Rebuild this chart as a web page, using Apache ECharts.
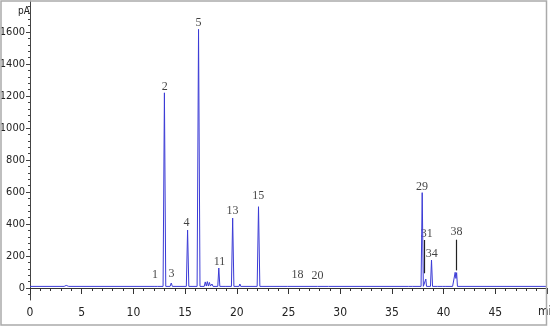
<!DOCTYPE html>
<html>
<head>
<meta charset="utf-8">
<script src="https://cdn.jsdelivr.net/npm/echarts@6/dist/echarts.min.js"></script>
<style>
  html, body { margin: 0; padding: 0; background: #fff; }
  #chart { width: 550px; height: 328px; }
</style>
</head>
<body>
<div id="chart"></div>
<script>
// retention time (min) and detector signal (pA) of the trace
var traceTime = [
  0, 3.3, 3.5, 3.75,
  12.08, 12.2, 12.32,
  12.87, 13.0, 13.13,
  13.55, 13.66, 13.77,
  15.12, 15.24, 15.36,
  16.16, 16.3, 16.44,
  16.85, 16.95, 17.05, 17.15, 17.25, 17.35, 17.45, 17.6, 17.7,
  18.16, 18.26, 18.36,
  18.87, 18.95, 19.03,
  19.48, 19.6, 19.72,
  20.22, 20.3, 20.38,
  21.97, 22.1, 22.23,
  24.92, 25.0, 25.08,
  25.92, 26.0, 26.08,
  27.82, 27.9, 27.98,
  28.87, 28.95, 29.03,
  36.62, 36.7, 36.78, 36.97, 37.05, 37.13,
  37.82, 37.93, 38.04,
  38.21, 38.28, 38.35,
  38.73, 38.83, 38.93,
  39.42, 39.5, 39.58,
  39.92, 40.0, 40.08, 40.22, 40.3, 40.38,
  40.87, 40.95, 41.05, 41.12, 41.19, 41.26, 41.34,
  50
];
var traceSignal = [
  10, 10, 16, 10,
  10, 15, 10,
  10, 1220, 10,
  10, 31, 10,
  10, 362, 10,
  10, 1617, 10,
  10, 38, 12, 40, 12, 35, 12, 25, 10,
  10, 125, 10,
  10, 22, 10,
  10, 437, 10,
  10, 25, 10,
  10, 508, 10,
  10, 15, 10,
  10, 20, 10,
  10, 20, 10,
  10, 22, 10,
  10, 16, 10, 10, 16, 10,
  10, 596, 10,
  10, 56, 10,
  10, 175, 10,
  10, 18, 10,
  10, 20, 10, 10, 18, 10,
  10, 15, 10, 98, 60, 96, 10,
  10
];

// peak numbers and where their labels sit
var peakNames  = ['1', '2', '3', '4', '5', '11', '13', '15', '18', '20', '29', '31', '34', '38'];
var labelTime  = [12.1, 13.02, 13.69, 15.14, 16.3, 18.32, 19.58, 22.08, 25.87, 27.8, 37.9, 38.36, 38.86, 41.25];
var labelValue = [80, 1255, 86, 405, 1657, 165, 480, 573, 80, 75, 633, 336, 213, 348];

// leader lines for peaks 31 and 38: [time, from, to]
var leaderTime = [38.16, 41.18];
var leaderFrom = [92, 110];
var leaderTo   = [300, 302];

var yMajor = [0, 200, 400, 600, 800, 1000, 1200, 1400, 1600];
var yMinor = [];
for (var v = -40; v <= 1760; v += 40) yMinor.push(v);

var chart = echarts.init(document.getElementById('chart'));

var trace = traceTime.map(function (t, i) { return [t, traceSignal[i]]; });
var labels = labelTime.map(function (t, i) { return { value: [t, labelValue[i]], name: peakNames[i] }; });
var leaders = leaderTime.map(function (t, i) {
  return [{ coord: [t, leaderFrom[i]] }, { coord: [t, leaderTo[i]] }];
});

var axisFont = 'Liberation Sans Narrow, DejaVu Sans Condensed, sans-serif';

var option = {
  animation: false,
  backgroundColor: '#fff',
  grid: { left: 30, right: 3, top: 1, bottom: 28, outerBoundsMode: 'none', containLabel: false },
  xAxis: {
    type: 'value',
    min: 0,
    max: 50,
    interval: 5,
    axisLine: { lineStyle: { color: '#333', width: 1 } },
    axisTick: { length: 6, lineStyle: { color: '#333' } },
    minorTick: { show: true, splitNumber: 5, length: 3, lineStyle: { color: '#333' } },
    splitLine: { show: false },
    axisLabel: {
      margin: 7, color: '#222', fontSize: 12, fontFamily: axisFont,
      formatter: function (v) { return v === 50 ? '' : String(v); }
    }
  },
  yAxis: [
    {
      type: 'value',
      min: -75,
      max: 1794,
      axisLine: { show: true, lineStyle: { color: '#444' } },
      axisTick: { show: true, length: 4, customValues: yMajor, lineStyle: { color: '#444' } },
      axisLabel: {
        margin: 5, color: '#222', fontSize: 11, fontFamily: axisFont, customValues: yMajor,
        formatter: function (v) { return String(v); }
      },
      splitLine: { show: false }
    },
    {
      type: 'value',
      min: -75,
      max: 1794,
      position: 'left',
      axisLine: { show: false },
      axisTick: { show: true, length: 2, customValues: yMinor, lineStyle: { color: '#444' } },
      axisLabel: { show: false },
      splitLine: { show: false }
    }
  ],
  series: [
    {
      name: 'trace',
      type: 'line',
      data: trace,
      showSymbol: false,
      lineStyle: { color: '#3b3bd6', width: 1 },
      markLine: {
        silent: true,
        symbol: 'none',
        label: { show: false },
        lineStyle: { color: '#222', type: 'solid', width: 1.2 },
        data: leaders
      }
    },
    {
      name: 'peaks',
      type: 'scatter',
      data: labels,
      symbolSize: 0,
      silent: true,
      label: {
        show: true,
        position: 'inside',
        formatter: '{b}',
        color: '#111',
        fontSize: 12,
        fontFamily: 'Liberation Serif, serif'
      }
    }
  ],
  graphic: [
    { type: 'text', left: 18, top: 6, style: { text: 'pA', fontSize: 10, fontFamily: axisFont, fill: '#222' } },
    { type: 'text', left: 538, top: 306, style: { text: 'min', fontSize: 12, fontFamily: axisFont, fill: '#222' } },
    { type: 'rect', z: 100, shape: { x: 1, y: 1, width: 545.5, height: 324 },
      style: { fill: 'none', stroke: '#aaa', lineWidth: 1.5 } }
  ]
};

chart.setOption(option);
</script>
</body>
</html>
